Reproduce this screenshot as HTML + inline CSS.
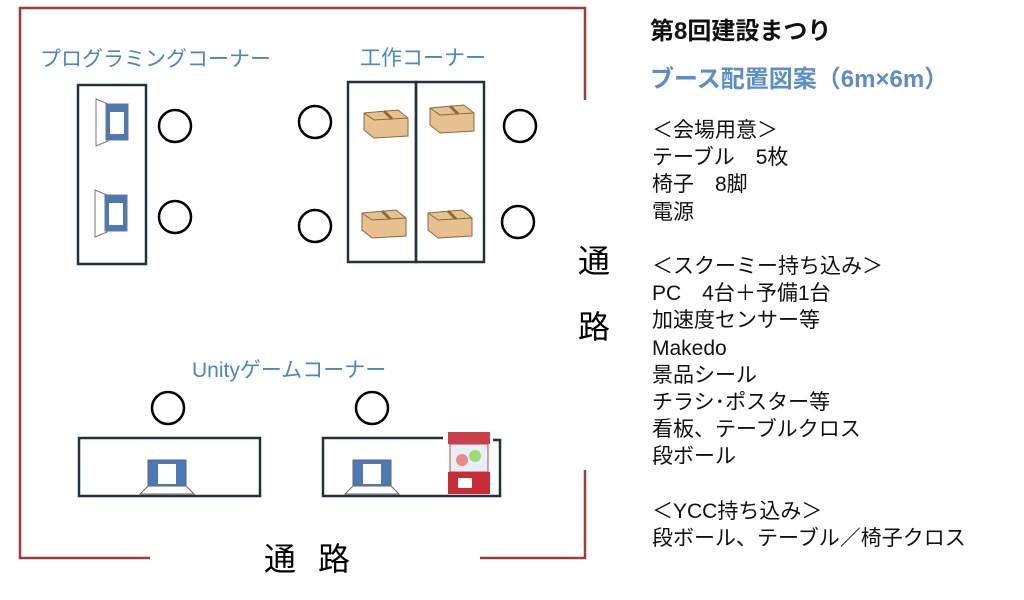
<!DOCTYPE html><html><head><meta charset="utf-8"><style>
body{margin:0;width:1024px;height:600px;background:#fff;overflow:hidden;position:relative;font-family:"Liberation Sans","Noto Sans CJK JP",sans-serif}
.t{position:absolute;white-space:nowrap}
.b{color:#4a86c5;font-size:21px}
.r{position:absolute;left:652px;font-size:21px;color:#111;line-height:27.2px;top:117px}
</style></head><body>
<svg width="1024" height="600" style="position:absolute;left:0;top:0">
<g stroke="#a33a3a" stroke-width="2.5" fill="none">
<polyline points="585,100 585,8 20,8 20,558 150,558"/>
<polyline points="480,558 585,558 585,470"/>
</g>
<g stroke="#233040" stroke-width="2.5" fill="none">
<rect x="78" y="85" width="68" height="179"/>
<rect x="348" y="82" width="68" height="180"/>
<rect x="416" y="82" width="68" height="180"/>
<rect x="79" y="438" width="181" height="58"/>
<polyline points="443,438 323,438 323,496 500,496 500,440 493,440"/>
</g>
<g stroke="#000" stroke-width="2.5" fill="none">
<circle cx="175" cy="126" r="16"/><circle cx="175" cy="217" r="16"/>
<circle cx="315" cy="122" r="16"/><circle cx="315" cy="226" r="16"/>
<circle cx="520" cy="126" r="16"/><circle cx="518" cy="222" r="16"/>
<circle cx="168" cy="408" r="16"/><circle cx="372" cy="408" r="16"/>
</g>
<g id="pc">
<polygon points="96,99 108,104 108,141 96,146" fill="#fff" stroke="#777"/>
<rect x="106" y="104" width="22" height="36" fill="#4a78b8" stroke="#777"/>
<rect x="110" y="112" width="14" height="22" fill="#fff"/>
</g>
<use href="#pc" transform="translate(-1,91)"/>
<g id="box">
<polygon points="364,113 398,110 408,118 408,136 374,138 364,130" fill="#e6c08e" stroke="#8a6a40"/>
<polyline points="364,113 374,120 408,118 M374,120 374,138" fill="none" stroke="#8a6a40"/>
<line x1="384" y1="111" x2="392" y2="119" stroke="#8a6a40" stroke-width="3"/>
</g>
<use href="#box" transform="translate(66,-5)"/>
<use href="#box" transform="translate(-2,100)"/>
<use href="#box" transform="translate(64,100)"/>
<g id="lap">
<rect x="148" y="460" width="38" height="26" fill="#4a78b8" stroke="#666"/>
<rect x="158" y="464" width="18" height="20" fill="#fff"/>
<polygon points="148,486 186,486 194,494 140,494" fill="#fff" stroke="#666"/>
</g>
<use href="#lap" transform="translate(205,0)"/>
<rect x="448" y="432" width="42" height="12" fill="#c9404a"/>
<rect x="450" y="444" width="38" height="28" fill="#e8eef5" stroke="#c9404a"/>
<circle cx="462" cy="460" r="6" fill="#e88"/><circle cx="475" cy="456" r="6" fill="#9d7"/>
<rect x="448" y="472" width="42" height="22" fill="#c82d35"/>
<rect x="458" y="478" width="14" height="10" fill="#fff"/>
</svg>
<div class="t b" style="left:40px;top:43px">プログラミングコーナー</div>
<div class="t b" style="left:360px;top:42px">工作コーナー</div>
<div class="t b" style="left:192px;top:354px">Unityゲームコーナー</div>
<div class="t" style="left:264px;top:534px;font-size:32px;letter-spacing:22px">通路</div>
<div class="t" style="left:578px;top:228px;font-size:32px;width:34px;line-height:66px;white-space:normal">通路</div>
<div class="t" style="left:650px;top:11px;font-size:24px;font-weight:bold;color:#111">第8回建設まつり</div>
<div class="t" style="left:650px;top:59px;font-size:24px;font-weight:bold;color:#5a8ec8">ブース配置図案（6m×6m）</div>
<div class="r">＜会場用意＞<br>テーブル　5枚<br>椅子　8脚<br>電源<br><br>＜スクーミー持ち込み＞<br>PC　4台＋予備1台<br>加速度センサー等<br>Makedo<br>景品シール<br>チラシ･ポスター等<br>看板、テーブルクロス<br>段ボール<br><br>＜YCC持ち込み＞<br>段ボール、テーブル／椅子クロス</div>
</body></html>
